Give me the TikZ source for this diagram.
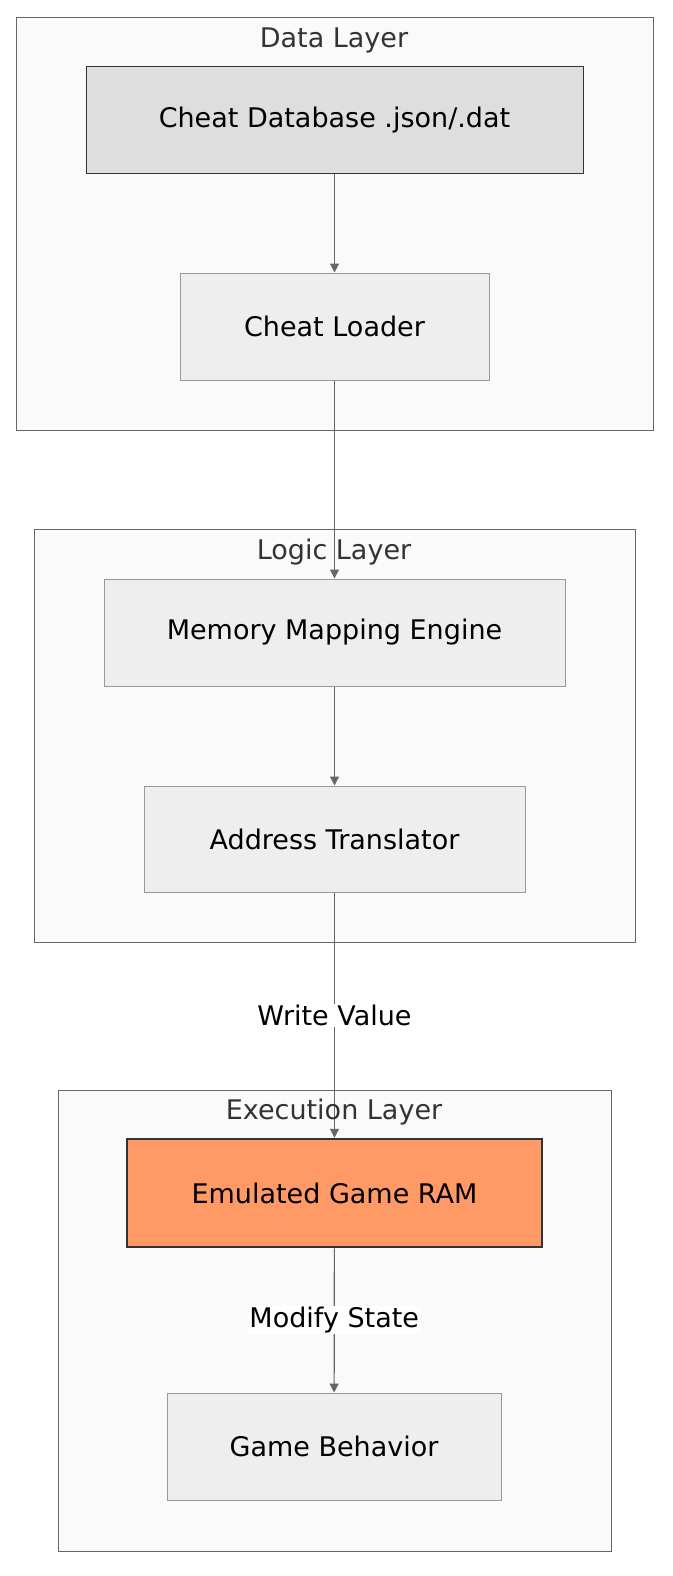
\documentclass[tikz,border=0pt]{standalone}
\usepackage{fontspec}
\setmainfont{DejaVu Sans}
\usetikzlibrary{arrows.meta}
\definecolor{clbg}{HTML}{FAFAFA}
\definecolor{clbd}{HTML}{666666}
\definecolor{nbg}{HTML}{EEEEEE}
\definecolor{nbd}{HTML}{999999}
\definecolor{ram}{HTML}{FF9966}
\definecolor{edge}{HTML}{666666}
\begin{document}
\begin{tikzpicture}[x=1pt,y=-1pt,
  cluster/.style={draw=clbd,fill=clbg,line width=1pt},
  ctitle/.style={font=\fontsize{27}{32}\selectfont,text=black!80},
  box/.style={draw=nbd,fill=nbg,line width=1pt,font=\fontsize{27}{32}\selectfont},
  arr/.style={draw=edge,line width=1.2pt,-{Triangle[length=9pt,width=9pt]}},
  lbl/.style={fill=white,font=\fontsize{27}{32}\selectfont,inner sep=1pt}]
\useasboundingbox (0,0) rectangle (672,1576);
\draw[cluster] (16,18) rectangle (653,430);
\node[ctitle] (t1) at (334,40) {Data Layer};
\draw[cluster] (34,529) rectangle (635,942);
\draw[cluster] (58,1090) rectangle (611,1551);
\node[box,draw=black!80,fill=black!13,minimum width=497pt,minimum height=106pt] (db) at (334.5,120) {Cheat Database .json/.dat};
\node[box,minimum width=309pt,minimum height=107pt] (ld) at (334.5,326.5) {Cheat Loader};
\node[box,minimum width=461pt,minimum height=107pt] (mm) at (334.5,632.5) {Memory Mapping Engine};
\node[box,minimum width=381pt,minimum height=106pt] (at) at (334.5,839) {Address Translator};
\node[box,draw=black!80,fill=ram,line width=2.5pt,minimum width=415pt,minimum height=108pt] (ram) at (334.5,1193) {Emulated Game RAM};
\node[box,minimum width=334pt,minimum height=107pt] (gb) at (334,1446.5) {Game Behavior};
\draw[arr] (db) -- (ld);
\draw[arr] (ld) -- (mm);
\draw[arr] (mm) -- (at);
\draw[arr] (at) -- node[lbl,pos=0.5] {Write Value} (ram);
\draw[arr] (ram) -- node[lbl,pos=0.5] {Modify State} (gb);
\node[ctitle] (t2) at (334,552) {Logic Layer};
\node[ctitle] (t3) at (334,1112) {Execution Layer};
\end{tikzpicture}
\end{document}
